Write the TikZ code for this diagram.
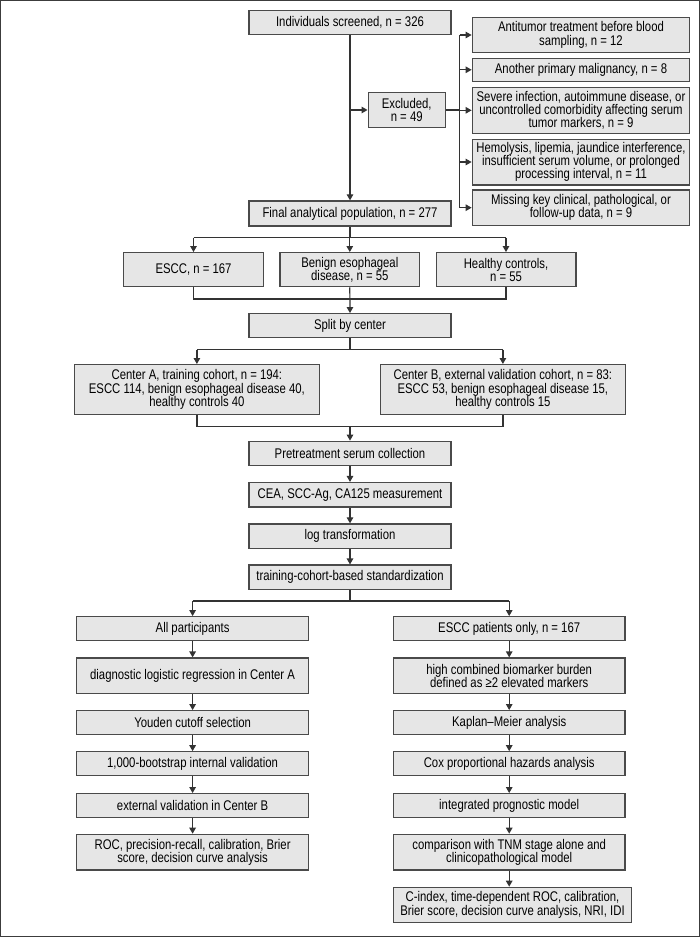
\documentclass[tikz,border=0pt]{standalone}
\usepackage{fontspec}
\setmainfont{Liberation Sans}[FakeStretch=0.81]
\usetikzlibrary{arrows.meta}
\definecolor{boxfill}{HTML}{E6E6E6}
\definecolor{boxline}{HTML}{4A4A4A}
\definecolor{linecol}{HTML}{333333}
\definecolor{framecol}{HTML}{3C3C3C}
\tikzset{
  fbox/.style={draw=boxline, fill=boxfill, line width=1.3pt, align=center, inner sep=0pt,
    font=\fontsize{14}{13.3}\selectfont},
  conn/.style={draw=linecol, line width=1.2pt},
  arr/.style={conn, -{Triangle[length=6pt,width=6.5pt]}},
}
\begin{document}
\begin{tikzpicture}[x=1pt,y=-1pt]
\useasboundingbox (0,0) rectangle (700,938);
\draw[framecol, line width=1pt] (0.5,0.5) rectangle (699.5,936.5);

% top section
\node[fbox, minimum width=202pt, minimum height=23.6pt] (scr) at (350,22.5) {Individuals screened, n = 326};
\node[fbox, minimum width=202pt, minimum height=25pt] (fin) at (350,213.5) {Final analytical population, n = 277};
\node[fbox, minimum width=77pt, minimum height=35.3pt] (exc) at (406.7,110) {Excluded,\\ n = 49};
\node[fbox, minimum width=217.4pt, minimum height=35.3pt] (e1) at (581,35) {Antitumor treatment before blood\\ sampling, n = 12};
\node[fbox, minimum width=217.4pt, minimum height=23pt] (e2) at (581,69.8) {Another primary malignancy, n = 8};
\node[fbox, minimum width=217.4pt, minimum height=46pt] (e3) at (581,110.3) {Severe infection, autoimmune disease, or\\ uncontrolled comorbidity affecting serum\\ tumor markers, n = 9};
\node[fbox, minimum width=217.4pt, minimum height=45.7pt] (e4) at (581,162) {Hemolysis, lipemia, jaundice interference,\\ insufficient serum volume, or prolonged\\ processing interval, n = 11};
\node[fbox, minimum width=217.4pt, minimum height=35.3pt] (e5) at (581,207.7) {Missing key clinical, pathological, or\\ follow-up data, n = 9};

\draw[arr] (scr) -- (fin);
\draw[arr] (scr.south |- exc.west) -- (exc.west);
\coordinate (bx) at (459.8,110);
\draw[conn] (exc.east) -- (bx);
\draw[conn] (bx |- e1.west) -- (bx |- e5.west);
\foreach \e in {e1,e2,e3,e4,e5} { \draw[arr] (bx |- \e.west) -- (\e.west); }

% groups
\node[fbox, minimum width=139.7pt, minimum height=34pt] (escc) at (193.5,269.7) {ESCC, n = 167};
\node[fbox, minimum width=139.7pt, minimum height=34pt] (ben) at (349.8,269.7) {Benign esophageal\\ disease, n = 55};
\node[fbox, minimum width=139.7pt, minimum height=34pt] (hc) at (506,269.7) {Healthy controls,\\ n = 55};
\coordinate (j1) at (350,237.7);
\draw[conn] (fin.south) -- (j1);
\draw[conn] (escc.north |- j1) -- (hc.north |- j1);
\foreach \g in {escc,ben,hc} { \draw[arr] (\g.north |- j1) -- (\g.north); }

\node[fbox, minimum width=202pt, minimum height=24pt] (split) at (350,325.7) {Split by center};
\coordinate (j2) at (350,299);
\draw[conn] (escc.south) -- (escc.south |- j2) -- (hc.south |- j2) -- (hc.south);
\draw[arr] (ben.south) -- (split.north);

\node[fbox, minimum width=244.6pt, minimum height=49.7pt] (ca) at (196.9,389.5) {Center A, training cohort, n = 194:\\ ESCC 114, benign esophageal disease 40,\\ healthy controls 40};
\node[fbox, minimum width=244.6pt, minimum height=49.7pt] (cb) at (502.9,389.5) {Center B, external validation cohort, n = 83:\\ ESCC 53, benign esophageal disease 15,\\ healthy controls 15};
\coordinate (j3) at (350,349.7);
\draw[conn] (split.south) -- (j3);
\draw[conn] (ca.north |- j3) -- (cb.north |- j3);
\draw[arr] (ca.north |- j3) -- (ca.north);
\draw[arr] (cb.north |- j3) -- (cb.north);

% processing chain
\node[fbox, minimum width=202pt, minimum height=24.4pt] (pre) at (350,453.5) {Pretreatment serum collection};
\node[fbox, minimum width=202pt, minimum height=24.4pt] (cea) at (350,494.8) {CEA, SCC-Ag, CA125 measurement};
\node[fbox, minimum width=202pt, minimum height=24.4pt] (logt) at (350,536.2) {log transformation};
\node[fbox, minimum width=202pt, minimum height=24.4pt] (std) at (350,577.3) {training-cohort-based standardization};
\coordinate (j4) at (350,426.7);
\draw[conn] (ca.south) -- (ca.south |- j4) -- (cb.south |- j4) -- (cb.south);
\draw[arr] (j4) -- (pre.north);
\draw[arr] (pre) -- (cea);
\draw[arr] (cea) -- (logt);
\draw[arr] (logt) -- (std);

% analysis branches
\tikzset{col/.style={fbox, minimum width=231.7pt, minimum height=24pt}}
\node[col] (allp) at (192.6,628.7) {All participants};
\node[col, minimum height=35.3pt] (diag) at (192.6,675.7) {diagnostic logistic regression in Center A};
\node[col] (you) at (192.6,722.7) {Youden cutoff selection};
\node[col] (boot) at (192.6,763.8) {1,000-bootstrap internal validation};
\node[col] (ext) at (192.6,805.7) {external validation in Center B};
\node[col, minimum height=35.7pt] (roc) at (192.6,852.2) {ROC, precision-recall, calibration, Brier\\ score, decision curve analysis};

\node[col] (escp) at (509.2,628.7) {ESCC patients only, n = 167};
\node[col, minimum height=35.3pt] (high) at (509.2,675.7) {high combined biomarker burden\\ defined as ≥2 elevated markers};
\node[col] (km) at (509.2,722.7) {Kaplan–Meier analysis};
\node[col] (cox) at (509.2,763.8) {Cox proportional hazards analysis};
\node[col] (integ) at (509.2,805.7) {integrated prognostic model};
\node[col, minimum height=35.7pt] (comp) at (509.2,852.2) {comparison with TNM stage alone and\\ clinicopathological model};
\node[fbox, minimum width=238.4pt, minimum height=35.3pt] (cidx) at (512.5,905) {C-index, time-dependent ROC, calibration,\\ Brier score, decision curve analysis, NRI, IDI};

\coordinate (j5) at (350,601);
\draw[conn] (std.south) -- (j5);
\draw[conn] (allp.north |- j5) -- (escp.north |- j5);
\draw[arr] (allp.north |- j5) -- (allp.north);
\draw[arr] (escp.north |- j5) -- (escp.north);
\draw[arr] (allp) -- (diag);
\draw[arr] (diag) -- (you);
\draw[arr] (you) -- (boot);
\draw[arr] (boot) -- (ext);
\draw[arr] (ext) -- (roc);
\draw[arr] (escp) -- (high);
\draw[arr] (high) -- (km);
\draw[arr] (km) -- (cox);
\draw[arr] (cox) -- (integ);
\draw[arr] (integ) -- (comp);
\draw[arr] (comp.south) -- (comp.south -| escp.south) -- (escp.south |- cidx.north);
\end{tikzpicture}
\end{document}
